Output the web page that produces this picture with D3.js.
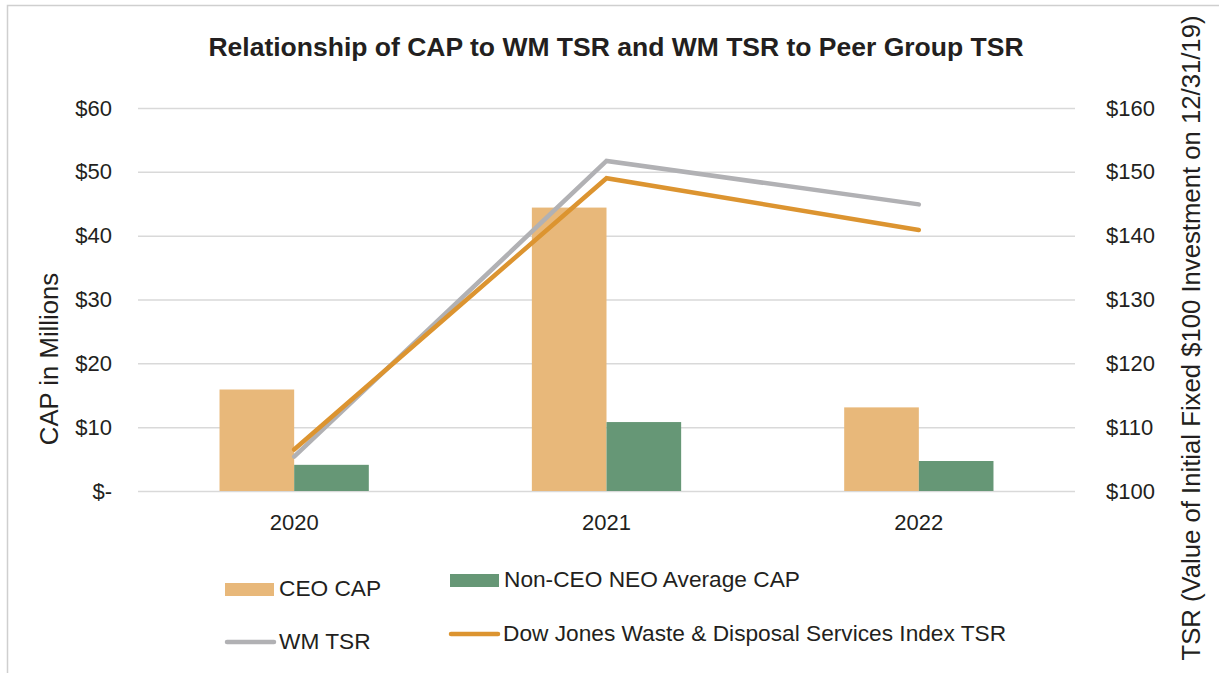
<!DOCTYPE html>
<html>
<head>
<meta charset="utf-8">
<script src="https://cdn.jsdelivr.net/npm/d3@7"></script>
<style>
  body { margin: 0; background: #fff; }
  svg text { font-family: "Liberation Sans", Arial, sans-serif; fill: #231f20; }
</style>
</head>
<body>
<script>
// chart values
var years = ["2020", "2021", "2022"];
var ceoCap = [15.9, 44.4, 13.1];
var neoCap = [4.1, 10.8, 4.7];
var wmTsr = [105.4, 151.7, 144.9];
var djTsr = [106.5, 149.0, 140.9];
var capTicks = [0, 10, 20, 30, 40, 50, 60];
var tsrTicks = [100, 110, 120, 130, 140, 150, 160];
var barSeries = ["CEO CAP", "Non-CEO NEO Average CAP"];
var lineSeries = ["WM TSR", "Dow Jones Waste & Disposal Services Index TSR"];

var width = 1219, height = 673;
var margin = { top: 108, left: 138, right: 144, bottom: 182 };
var plotW = width - margin.left - margin.right;
var plotH = height - margin.top - margin.bottom;

var barColors = ["#e8b87a", "#669776"];
var lineColors = ["#b1b1b4", "#dc9430"];

var svg = d3.select("body").append("svg")
	.attr("width", width)
	.attr("height", height);

// outer frame
svg.append("rect")
	.attr("x", 7.5).attr("y", 5.5)
	.attr("width", 1300).attr("height", 700)
	.attr("fill", "none")
	.attr("stroke", "#cfcfcf")
	.attr("stroke-width", 1.5);

svg.append("text")
	.attr("x", 616).attr("y", 56)
	.attr("text-anchor", "middle")
	.attr("font-size", "26.5px")
	.attr("font-weight", "bold")
	.text("Relationship of CAP to WM TSR and WM TSR to Peer Group TSR");

var g = svg.append("g")
	.attr("transform", "translate(" + margin.left + "," + margin.top + ")");

var x0 = d3.scaleBand().domain(years).range([0, plotW]);
var gap = x0.bandwidth() * 0.261;
var x1 = d3.scaleBand().domain(barSeries).range([gap, x0.bandwidth() - gap]);

var yCap = d3.scaleLinear().domain([0, 60]).range([plotH, 0]);
var yTsr = d3.scaleLinear().domain([100, 160]).range([plotH, 0]);

// gridlines
g.append("g")
	.attr("class", "grid")
	.call(d3.axisLeft(yCap).tickValues(capTicks).tickSize(-plotW).tickFormat(""))
	.call(function (s) { s.select(".domain").remove(); })
	.selectAll("line")
	.attr("stroke", "#d9d9d9")
	.attr("stroke-width", 1.5);

// left axis
g.append("g")
	.attr("transform", "translate(-23,0)")
	.call(d3.axisLeft(yCap).tickValues(capTicks).tickSize(0)
		.tickFormat(function (d) { return d === 0 ? "$-" : "$" + d; }))
	.call(function (s) { s.select(".domain").remove(); })
	.selectAll("text")
	.attr("font-size", "22px")
	.attr("fill", "#231f20");

// right axis
g.append("g")
	.attr("transform", "translate(" + (plotW + 28) + ",0)")
	.call(d3.axisRight(yTsr).tickValues(tsrTicks).tickSize(0)
		.tickFormat(function (d) { return "$" + d; }))
	.call(function (s) { s.select(".domain").remove(); })
	.selectAll("text")
	.attr("font-size", "22px")
	.attr("fill", "#231f20");

// bottom axis
g.append("g")
	.attr("transform", "translate(0," + plotH + ")")
	.call(d3.axisBottom(x0).tickSize(0))
	.call(function (s) { s.select(".domain").remove(); })
	.selectAll("text")
	.attr("font-size", "22px")
	.attr("fill", "#231f20")
	.attr("dy", "1.65em");

// axis titles
svg.append("text")
	.attr("transform", "translate(58,359) rotate(-90)")
	.attr("text-anchor", "middle")
	.attr("font-size", "25.7px")
	.text("CAP in Millions");

svg.append("text")
	.attr("transform", "translate(1200,338) rotate(-90)")
	.attr("text-anchor", "middle")
	.attr("font-size", "25.7px")
	.text("TSR (Value of Initial Fixed $100 Investment on 12/31/19)");

// bars
var barData = years.map(function (y, i) {
	return { year: y, vals: [ceoCap[i], neoCap[i]] };
});
var groups = g.selectAll(".yr")
	.data(barData)
	.enter().append("g")
	.attr("class", "yr")
	.attr("transform", function (d) { return "translate(" + x0(d.year) + ",0)"; });
groups.selectAll("rect")
	.data(function (d) { return d.vals.map(function (v, k) { return { k: k, v: v }; }); })
	.enter().append("rect")
	.attr("x", function (d) { return x1(barSeries[d.k]); })
	.attr("width", x1.bandwidth())
	.attr("y", function (d) { return yCap(d.v); })
	.attr("height", function (d) { return plotH - yCap(d.v); })
	.attr("fill", function (d) { return barColors[d.k]; });

// lines
var line = d3.line()
	.x(function (d, i) { return x0(years[i]) + x0.bandwidth() / 2; })
	.y(function (d) { return yTsr(d); });
[wmTsr, djTsr].forEach(function (series, k) {
	g.append("path")
		.datum(series)
		.attr("d", line)
		.attr("fill", "none")
		.attr("stroke", lineColors[k])
		.attr("stroke-width", 4.5)
		.attr("stroke-linecap", "round")
		.attr("stroke-linejoin", "miter");
});

// legend
var legBars = [{ x: 225, y: 583, ty: 596 }, { x: 450, y: 574, ty: 587 }];
legBars.forEach(function (p, k) {
	svg.append("rect")
		.attr("x", p.x).attr("y", p.y)
		.attr("width", 49).attr("height", 13)
		.attr("fill", barColors[k]);
	svg.append("text")
		.attr("x", p.x + 54).attr("y", p.ty)
		.attr("font-size", "22.7px")
		.text(barSeries[k]);
});
var legLines = [{ x: 225, y: 642, ty: 649 }, { x: 449, y: 634, ty: 641 }];
legLines.forEach(function (p, k) {
	svg.append("line")
		.attr("x1", p.x + 2).attr("x2", p.x + 49)
		.attr("y1", p.y).attr("y2", p.y)
		.attr("stroke", lineColors[k])
		.attr("stroke-width", 4.5)
		.attr("stroke-linecap", "round");
	svg.append("text")
		.attr("x", p.x + 54).attr("y", p.ty)
		.attr("font-size", "22.7px")
		.text(lineSeries[k]);
});
</script>
</body>
</html>
